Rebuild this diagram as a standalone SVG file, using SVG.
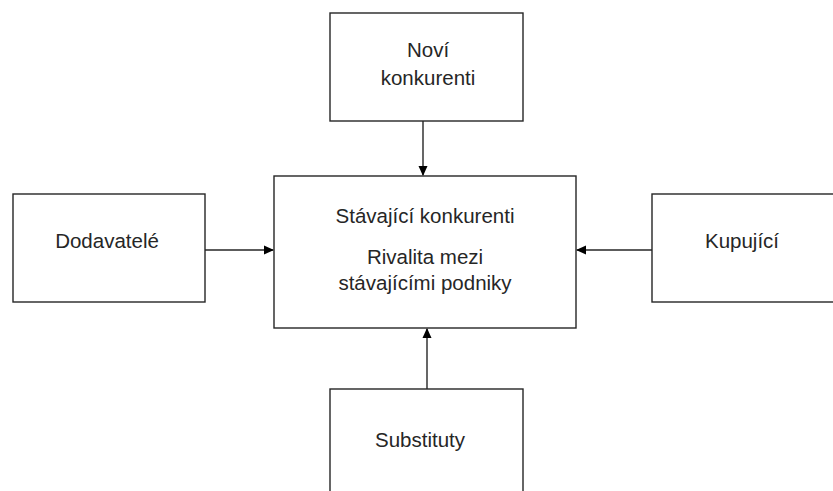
<svg xmlns="http://www.w3.org/2000/svg" width="833" height="491" viewBox="0 0 833 491">
<defs>
<style>
.box{fill:#fff;stroke:#262626;stroke-width:1.4}
.t{font-family:"Liberation Sans",Arial,sans-serif;font-size:20.5px;fill:#262626;text-anchor:middle}
.c{stroke:#262626;stroke-width:1.4;fill:none}
</style>
<marker id="ah" markerWidth="10" markerHeight="10" refX="9" refY="5" orient="auto" markerUnits="userSpaceOnUse">
<path d="M0,0.5 L10,5 L0,9.5 Z" fill="#000"/>
</marker>
</defs>
<rect width="833" height="491" fill="#fff"/>
<g id="novi">
<rect class="box" x="330" y="13" width="193" height="108"/>
<text class="t" x="428" y="57">Noví</text>
<text class="t" x="428" y="85">konkurenti</text>
</g>
<g id="stavajici">
<rect class="box" x="274" y="176" width="302" height="152"/>
<text class="t" x="425" y="223">Stávající konkurenti</text>
<text class="t" x="425" y="264">Rivalita mezi</text>
<text class="t" x="425" y="290">stávajícími podniky</text>
</g>
<g id="dodavatele">
<rect class="box" x="13" y="194" width="192" height="108"/>
<text class="t" x="107" y="248">Dodavatelé</text>
</g>
<g id="kupujici">
<rect class="box" x="652" y="194" width="190" height="108"/>
<text class="t" x="742" y="248">Kupující</text>
</g>
<g id="substituty">
<rect class="box" x="330" y="389" width="193" height="120"/>
<text class="t" x="420" y="447">Substituty</text>
</g>
<g id="connectors">
<line class="c" x1="423" y1="121" x2="423" y2="175" marker-end="url(#ah)"/>
<line class="c" x1="205" y1="250" x2="273" y2="250" marker-end="url(#ah)"/>
<line class="c" x1="652" y1="250" x2="577" y2="250" marker-end="url(#ah)"/>
<line class="c" x1="427" y1="389" x2="427" y2="329" marker-end="url(#ah)"/>
</g>
</svg>
